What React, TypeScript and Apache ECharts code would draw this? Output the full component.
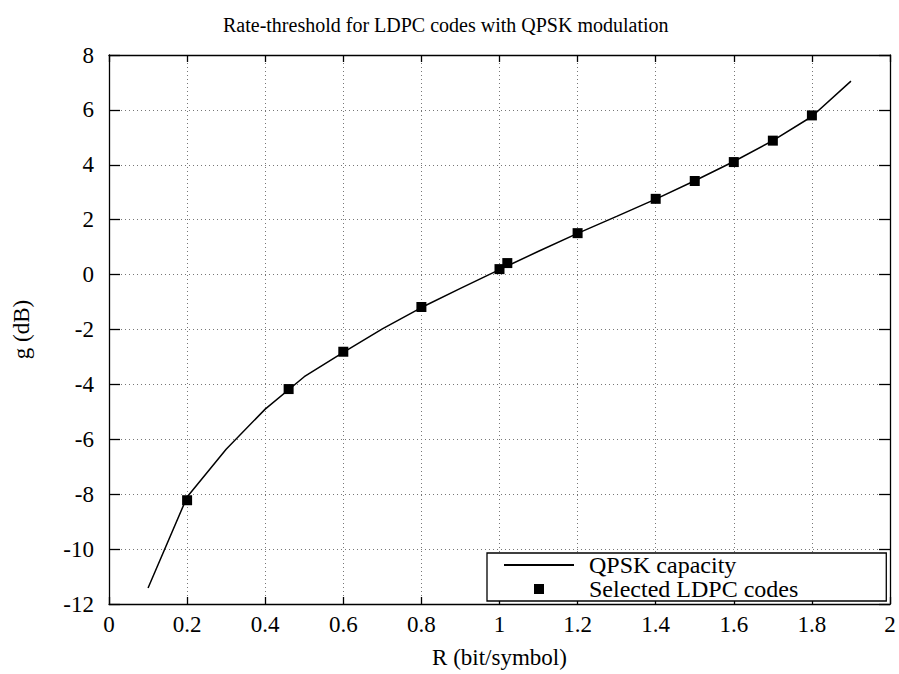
import React, { useEffect, useRef } from "react";
import * as echarts from "echarts";

const capacityR = [0.1, 0.2, 0.3, 0.4, 0.5, 0.6, 0.7, 0.8, 0.9, 1.0, 1.1, 1.2, 1.3, 1.4, 1.5, 1.6, 1.7, 1.8, 1.9];
const capacityG = [-11.42, -8.1, -6.36, -4.9, -3.72, -2.83, -1.98, -1.2, -0.5, 0.18, 0.85, 1.5, 2.12, 2.75, 3.42, 4.12, 4.88, 5.76, 7.05];

const codeR = [0.2, 0.46, 0.6, 0.8, 1.0, 1.02, 1.2, 1.4, 1.5, 1.6, 1.7, 1.8];
const codeG = [-8.22, -4.17, -2.81, -1.18, 0.2, 0.42, 1.51, 2.76, 3.41, 4.1, 4.88, 5.8];

const titleText = "Rate-threshold for LDPC codes with QPSK modulation";
const xName = "R (bit/symbol)";
const yName = "g (dB)";
const seriesNames = ["QPSK capacity", "Selected LDPC codes"];

const FONT = "Liberation Serif";

export default function App() {
  const ref = useRef<HTMLDivElement>(null);
  useEffect(() => {
    if (!ref.current) return;
    const chart = echarts.init(ref.current, null, { renderer: "svg" });
    const axisLine = { show: true, onZero: false, lineStyle: { color: "#000", width: 1.3 } };
    const splitLine = { show: true, lineStyle: { color: "#777", width: 1, type: [1, 3] as any } };
    const tickX = { show: true, inside: true, length: 7, lineStyle: { color: "#000", width: 1.3 } };
    const tickY = { show: true, inside: true, length: 11, lineStyle: { color: "#000", width: 1.3 } };
    chart.setOption({
      animation: false,
      backgroundColor: "#fff",
      textStyle: { fontFamily: FONT, color: "#000" },
      title: {
        text: titleText,
        left: 218,
        top: 10,
        textStyle: { fontFamily: FONT, fontSize: 20, fontWeight: "normal", color: "#000" },
      },
      grid: { left: 109, right: 9, top: 55, bottom: 69, containLabel: false },
      legend: {
        orient: "vertical",
        left: 487,
        top: 553,
        padding: [0, 88, 0, 16],
        itemWidth: 70,
        itemHeight: 10,
        itemGap: 0,
        borderColor: "#000",
        borderWidth: 1.3,
        backgroundColor: "#fff",
        textStyle: { fontFamily: FONT, fontSize: 24, color: "#000", lineHeight: 20, padding: [0, 0, 0, 10] },
        data: [
          { name: seriesNames[0], itemStyle: { opacity: 0 } },
          { name: seriesNames[1], icon: "path://M0,0L10,0L10,10L0,10Z" },
        ],
      },
      xAxis: [
        {
          type: "value",
          min: 0,
          max: 2,
          interval: 0.2,
          position: "bottom",
          name: xName,
          nameLocation: "middle",
          nameGap: 42,
          nameTextStyle: { fontFamily: FONT, fontSize: 23, color: "#000" },
          axisLine,
          axisTick: tickX,
          axisLabel: { fontFamily: FONT, fontSize: 23, color: "#000", margin: 9 },
          splitLine,
        },
        {
          type: "value",
          min: 0,
          max: 2,
          interval: 0.2,
          position: "top",
          axisLine,
          axisTick: tickX,
          axisLabel: { show: false },
          splitLine: { show: false },
        },
      ],
      yAxis: [
        {
          type: "value",
          min: -12,
          max: 8,
          interval: 2,
          position: "left",
          name: yName,
          nameLocation: "middle",
          nameGap: 76,
          nameTextStyle: { fontFamily: FONT, fontSize: 23, color: "#000" },
          axisLine,
          axisTick: tickY,
          axisLabel: { fontFamily: FONT, fontSize: 23, color: "#000", margin: 15 },
          splitLine,
        },
        {
          type: "value",
          min: -12,
          max: 8,
          interval: 2,
          position: "right",
          axisLine,
          axisTick: tickY,
          axisLabel: { show: false },
          splitLine: { show: false },
        },
      ],
      series: [
        {
          name: seriesNames[0],
          type: "line",
          xAxisIndex: 0,
          yAxisIndex: 0,
          data: capacityR.map((r, i) => [r, capacityG[i]]),
          symbol: "none",
          lineStyle: { color: "#000", width: 1.5 },
          itemStyle: { color: "#000" },
          z: 3,
        },
        {
          name: seriesNames[1],
          type: "scatter",
          xAxisIndex: 0,
          yAxisIndex: 0,
          data: codeR.map((r, i) => [r, codeG[i]]),
          symbol: "rect",
          symbolSize: 10,
          itemStyle: { color: "#000", opacity: 1 },
          z: 4,
        },
      ],
    });
    return () => chart.dispose();
  }, []);
  return (
    <div
      ref={ref}
      style={{ position: "fixed", left: 0, top: 0, width: 899, height: 674, background: "#fff" }}
    />
  );
}
